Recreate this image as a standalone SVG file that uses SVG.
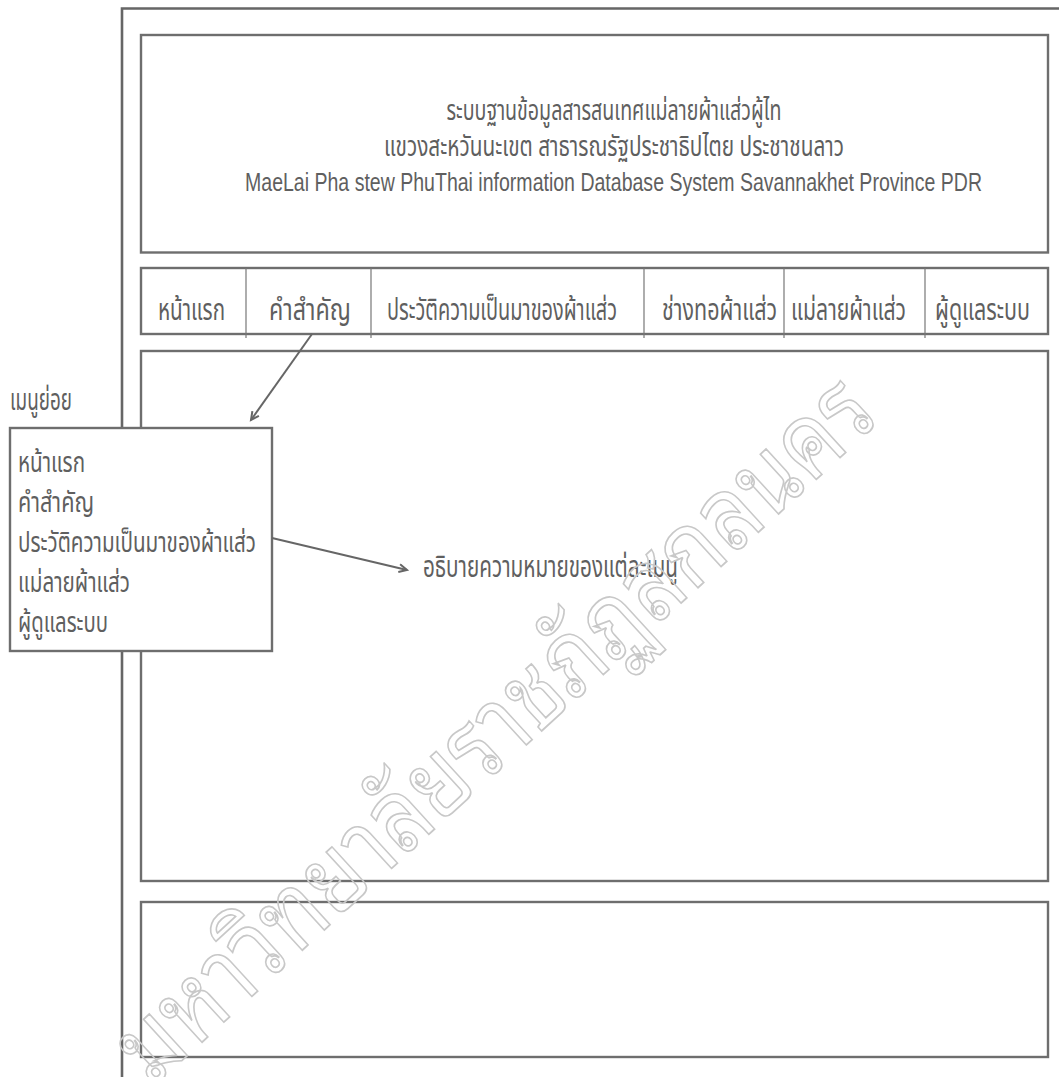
<svg xmlns="http://www.w3.org/2000/svg" width="1059" height="1077" viewBox="0 0 1059 1077">
<style>
.box{fill:#fff;stroke:#6e6e6e;stroke-width:2.4}
.frame{fill:none;stroke:#666;stroke-width:2.6}
.div{stroke:#777;stroke-width:1.2}
.th{font-family:"Noto Sans Thai","Noto Sans","Liberation Sans",sans-serif;font-size:20px;fill:#5f5f5f}
.en{font-family:"Liberation Sans",Arial,sans-serif;font-size:19.5px;fill:#5f5f5f}
.conn{fill:none;stroke:#666;stroke-width:2}
.wm{font-family:"Noto Sans Thai Looped","Noto Sans Thai","Noto Sans",sans-serif;font-size:70px;fill:none;stroke:#c8c8c8;stroke-width:1.2}
</style>
<defs>
<marker id="arr" markerUnits="userSpaceOnUse" markerWidth="14" markerHeight="14" refX="9" refY="5" orient="auto">
<path d="M1,1 L9,5 L1,9" fill="none" stroke="#666" stroke-width="2"/>
</marker>
</defs>
<rect width="1059" height="1077" fill="#fff"/>
<g id="frame">
<path class="frame" d="M122,1077 V8.5 H1059"/>
</g>
<g id="header">
<rect class="box" x="141" y="35" width="907" height="217.5"/>
<text class="th" transform="translate(614,120) scale(1,1.38)" text-anchor="middle" textLength="335" lengthAdjust="spacingAndGlyphs">ระบบฐานข้อมูลสารสนเทศแม่ลายผ้าแส่วผู้ไท</text>
<text class="th" transform="translate(384,156) scale(1,1.38)" textLength="460" lengthAdjust="spacingAndGlyphs">แขวงสะหวันนะเขต สาธารณรัฐประชาธิปไตย ประชาชนลาว</text>
<text class="en" transform="translate(245,191) scale(1,1.3)" textLength="737" lengthAdjust="spacingAndGlyphs">MaeLai Pha stew PhuThai information Database System Savannakhet Province PDR</text>
</g>
<g id="menubar">
<rect class="box" x="141" y="268" width="907" height="66"/>
<line class="div" x1="246" y1="268" x2="246" y2="338"/>
<line class="div" x1="371" y1="268" x2="371" y2="338"/>
<line class="div" x1="644" y1="268" x2="644" y2="338"/>
<line class="div" x1="784" y1="268" x2="784" y2="338"/>
<line class="div" x1="925" y1="268" x2="925" y2="338"/>
<text class="th" transform="translate(158,320) scale(1,1.55)" textLength="67" lengthAdjust="spacingAndGlyphs">หน้าแรก</text>
<text class="th" transform="translate(269,320) scale(1,1.55)" textLength="82" lengthAdjust="spacingAndGlyphs">คำสำคัญ</text>
<text class="th" transform="translate(387,320) scale(1,1.55)" textLength="230" lengthAdjust="spacingAndGlyphs">ประวัติความเป็นมาของผ้าแส่ว</text>
<text class="th" transform="translate(662,320) scale(1,1.55)" textLength="115" lengthAdjust="spacingAndGlyphs">ช่างทอผ้าแส่ว</text>
<text class="th" transform="translate(791,320) scale(1,1.55)" textLength="115" lengthAdjust="spacingAndGlyphs">แม่ลายผ้าแส่ว</text>
<text class="th" transform="translate(935,320) scale(1,1.55)" textLength="95" lengthAdjust="spacingAndGlyphs">ผู้ดูแลระบบ</text>
</g>
<g id="content">
<rect class="box" x="141" y="351" width="907" height="530"/>
<text class="th" transform="translate(423,577) scale(1,1.5)" textLength="255" lengthAdjust="spacingAndGlyphs">อธิบายความหมายของแต่ละเมนู</text>
</g>
<g id="footer">
<rect class="box" x="141" y="902" width="907" height="155"/>
</g>
<g id="submenu-label">
<text class="th" transform="translate(10,410) scale(1,1.5)" textLength="62" lengthAdjust="spacingAndGlyphs">เมนูย่อย</text>
</g>
<g id="submenu">
<rect class="box" x="10" y="428" width="262" height="223"/>
<text class="th" transform="translate(18,472) scale(1,1.45)" textLength="67" lengthAdjust="spacingAndGlyphs">หน้าแรก</text>
<text class="th" transform="translate(18,512) scale(1,1.45)" textLength="76" lengthAdjust="spacingAndGlyphs">คำสำคัญ</text>
<text class="th" transform="translate(18,552) scale(1,1.45)" textLength="238" lengthAdjust="spacingAndGlyphs">ประวัติความเป็นมาของผ้าแส่ว</text>
<text class="th" transform="translate(18,592) scale(1,1.45)" textLength="112" lengthAdjust="spacingAndGlyphs">แม่ลายผ้าแส่ว</text>
<text class="th" transform="translate(18,632) scale(1,1.45)" textLength="90" lengthAdjust="spacingAndGlyphs">ผู้ดูแลระบบ</text>
</g>
<g id="connectors">
<line class="conn" x1="312" y1="334" x2="251" y2="420" marker-end="url(#arr)"/>
<line class="conn" x1="272" y1="538" x2="407" y2="570" marker-end="url(#arr)"/>
</g>
<g id="watermark">
<text class="wm" transform="translate(152,1088) rotate(-42.5) scale(1,1.45)" textLength="990" lengthAdjust="spacingAndGlyphs">มหาวิทยาลัยราชภัฏสกลนคร</text>
</g>
</svg>
